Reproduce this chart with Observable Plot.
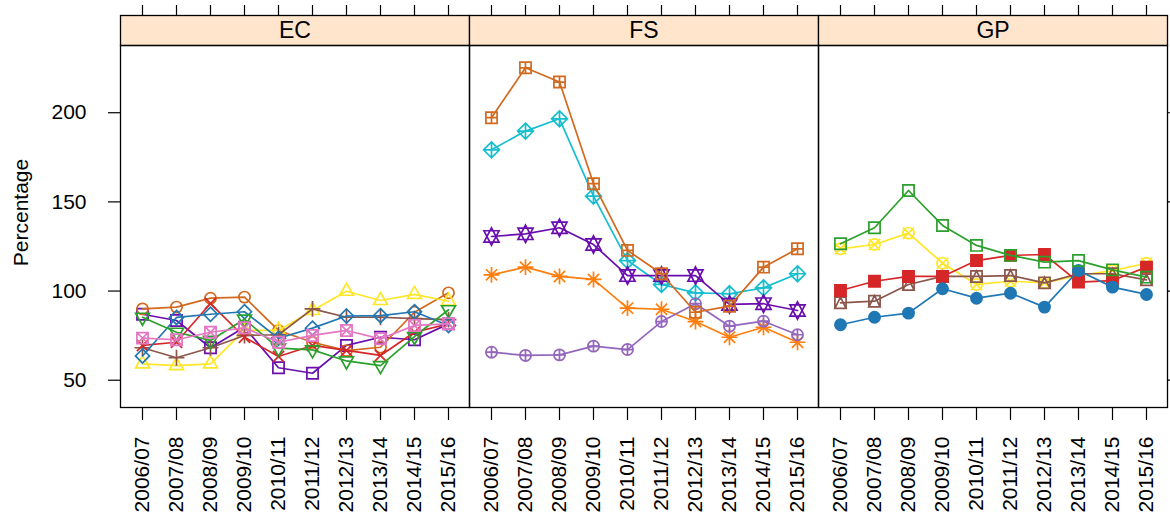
<!DOCTYPE html>
<html>
<head>
<meta charset="utf-8">
<script src="https://cdn.jsdelivr.net/npm/d3@7"></script>
<script src="https://cdn.jsdelivr.net/npm/@observablehq/plot@0.6"></script>
<style>
  html, body { margin: 0; padding: 0; background: white; }
</style>
</head>
<body>
<div id="chart"></div>
<script>
// ---- data ----
const years = ["2006/07","2007/08","2008/09","2009/10","2010/11","2011/12","2012/13","2013/14","2014/15","2015/16"];
const panels = ["EC", "FS", "GP"];
const yTicks = [50, 100, 150, 200];

// EC panel
const ec1 = [87.0, 83.5, 68.2, 79.7, 57.0, 53.9, 69.5, 74.1, 72.7, 81.6];
const ec2 = [90.0, 91.0, 96.0, 96.6, 77.9, 71.3, 66.6, 68.5, 88.1, 99.0];
const ec3 = [59.2, 58.2, 59.2, 77.9, 77.9, 89.1, 99.9, 94.7, 98.1, 94.3];
const ec4 = [68.2, 62.6, 68.2, 75.1, 75.5, 90.0, 85.3, 85.3, 84.5, 84.0];
const ec5 = [69.5, 71.3, 93.0, 74.1, 63.3, 69.5, 66.7, 63.9, 76.9, 81.6];
const ec6 = [63.6, 85.2, 87.0, 88.4, 73.5, 79.2, 86.0, 86.2, 88.4, 80.7];
const ec7 = [85.3, 76.9, 72.3, 84.2, 68.0, 67.0, 60.8, 58.2, 74.5, 89.5];
const ec8 = [73.6, 72.7, 76.9, 79.4, 71.3, 75.1, 77.9, 73.2, 80.7, 81.6];
// FS panel
const fs1 = [109.1, 113.4, 108.2, 106.5, 90.4, 89.8, 82.9, 74.1, 79.7, 71.3];
const fs2 = [179.2, 189.7, 196.6, 153.2, 117.1, 103.7, 99.0, 98.5, 101.8, 109.7];
const fs3 = [65.7, 63.9, 64.2, 69.1, 67.2, 82.9, 92.9, 80.3, 83.1, 75.5];
const fs4 = [130.6, 132.1, 135.5, 126.1, 108.7, 108.7, 108.7, 92.5, 92.9, 89.1];
const fs5 = [197.2, 225.2, 217.2, 160.2, 122.8, 109.7, 88.1, 91.5, 113.4, 123.7];
// GP panel
const gp1 = [123.7, 126.1, 132.5, 115.6, 103.7, 105.5, 104.6, 108.7, 111.5, 115.6];
const gp2 = [93.4, 94.3, 103.7, 108.2, 108.2, 108.7, 104.6, 109.7, 109.7, 106.3];
const gp3 = [100.3, 105.5, 108.2, 108.2, 117.1, 120.0, 120.5, 105.0, 105.9, 113.4];
const gp4 = [81.1, 85.3, 87.6, 101.3, 96.0, 98.8, 91.0, 111.5, 102.2, 98.1];
const gp5 = [126.5, 135.5, 156.4, 136.8, 125.6, 120.0, 116.2, 117.1, 111.9, 107.8];

const seriesNames = ["EC-1","EC-2","EC-3","EC-4","EC-5","EC-6","EC-7","EC-8","FS-1","FS-2","FS-3","FS-4","FS-5","GP-1","GP-2","GP-3","GP-4","GP-5"];
const seriesPanels = ["EC","EC","EC","EC","EC","EC","EC","EC","FS","FS","FS","FS","FS","GP","GP","GP","GP","GP"];
const seriesValues = [ec1, ec2, ec3, ec4, ec5, ec6, ec7, ec8, fs1, fs2, fs3, fs4, fs5, gp1, gp2, gp3, gp4, gp5];

// ---- styles ----
const palette = ["#6A0DAD","#D2691E","#FFE628","#8C564B","#D62728","#1F77B4","#2CA02C","#E377C2","#FF7F0E","#17BECF","#9467BD"];

const TRC0 = 1.5551, TRC1 = 1.3468, TRC2 = 0.7776;
const rectP = (c, h) => { c.moveTo(-h, -h); c.lineTo(h, -h); c.lineTo(h, h); c.lineTo(-h, h); c.closePath(); };
const circP = (c, r) => { c.moveTo(r, 0); c.arc(0, 0, r, 0, 2 * Math.PI); c.closePath(); };
const plusP = (c, a) => { c.moveTo(-a, 0); c.lineTo(a, 0); c.moveTo(0, -a); c.lineTo(0, a); };
const timesP = (c, a) => { c.moveTo(-a, -a); c.lineTo(a, a); c.moveTo(-a, a); c.lineTo(a, -a); };
const triP = (c, R, dir) => { const k = 0.92 * R; c.moveTo(0, -dir * TRC0 * k); c.lineTo(TRC1 * k, dir * TRC2 * k); c.lineTo(-TRC1 * k, dir * TRC2 * k); c.closePath(); };
const diaP = (c, a) => { c.moveTo(0, -a); c.lineTo(a, 0); c.lineTo(0, a); c.lineTo(-a, 0); c.closePath(); };
const sym = f => ({ draw(c, size) { f(c, Math.sqrt(size / Math.PI)); } });

const symbols = [
  sym((c, R) => rectP(c, R)),                                   // 0 square
  sym((c, R) => circP(c, R)),                                   // 1 circle
  sym((c, R) => triP(c, R, 1)),                                 // 2 triangle up
  sym((c, R) => plusP(c, Math.SQRT2 * R)),                      // 3 plus
  sym((c, R) => timesP(c, R)),                                  // 4 times
  sym((c, R) => diaP(c, 1.2533 * R)),                           // 5 diamond
  sym((c, R) => triP(c, R, -1)),                                // 6 triangle down
  sym((c, R) => { rectP(c, R); timesP(c, R); }),                // 7 square + times
  sym((c, R) => { timesP(c, R); plusP(c, Math.SQRT2 * R); }),   // 8 asterisk
  sym((c, R) => { diaP(c, Math.SQRT2 * R); plusP(c, Math.SQRT2 * R); }), // 9 diamond + plus
  sym((c, R) => { circP(c, R); plusP(c, R); }),                 // 10 circle + plus
  sym((c, R) => { const r = TRC0 * R, yc = 1.02 * R, xc = TRC1 * R;
                  c.moveTo(0, -r); c.lineTo(xc, yc); c.lineTo(-xc, yc); c.closePath();
                  c.moveTo(0, r); c.lineTo(xc, -yc); c.lineTo(-xc, -yc); c.closePath(); }), // 11 star of David
  sym((c, R) => { rectP(c, R); plusP(c, R); }),                 // 12 square + plus
  sym((c, R) => { circP(c, R); timesP(c, R); }),                // 13 circle + times
  sym((c, R) => { rectP(c, R); c.moveTo(0, -R); c.lineTo(R, R); c.lineTo(-R, R); c.closePath(); }), // 14 square + triangle
  sym((c, R) => rectP(c, R)),                                   // 15 filled square
  sym((c, R) => circP(c, R)),                                   // 16 filled circle
  sym((c, R) => rectP(c, R))                                    // 17 open square
];
const filled = [15, 16];

// ---- table ----
const rows = seriesNames.flatMap((name, i) =>
  years.map((year, j) => ({ series: name, panel: seriesPanels[i], year, value: seriesValues[i][j] })));

const W = 1170, H = 513, MT = 45, MB = 106, ML = 119, MR = 2;
const PH = H - MT - MB;
const STRIP = 30;
const font = "'Liberation Sans', Arial, Helvetica, sans-serif";

const seriesMarks = seriesNames.flatMap((name, i) => {
  const d = rows.filter(r => r.series === name);
  const color = palette[i % palette.length];
  return [
    Plot.lineY(d, { x: "year", y: "value", fx: "panel", stroke: color, strokeWidth: 1.7 }),
    Plot.dot(d, { x: "year", y: "value", fx: "panel", symbol: symbols[i], r: 5.6,
                  stroke: color, strokeWidth: 1.7, fill: filled.includes(i) ? color : "none" })
  ];
});

const chart = Plot.plot({
  width: W, height: H,
  marginTop: MT, marginBottom: MB, marginLeft: ML, marginRight: MR,
  style: { fontFamily: font, fontSize: "21px", background: "white", color: "black", overflow: "visible" },
  fx: { domain: panels, padding: 0, axis: null, label: null },
  x: { domain: years, type: "point", padding: 0.6, label: null },
  y: { domain: [34.7, 237.7], label: null },
  marks: [
    Plot.frame({ fill: "#FFE5CC", stroke: "black", strokeWidth: 1.3, insetTop: -STRIP, insetBottom: PH }),
    Plot.text(panels, { fx: d => d, text: d => d, frameAnchor: "top", lineAnchor: "middle", dy: -STRIP / 2, fontSize: 23 }),
    Plot.axisX({ anchor: "top", tickSize: 11, dy: -STRIP, tickFormat: () => "", label: null, strokeWidth: 1.2 }),
    Plot.axisX({ anchor: "bottom", tickSize: 13, tickPadding: 16, tickRotate: -90, label: null, fontSize: 21, strokeWidth: 1.2 }),
    Plot.axisY({ anchor: "left", ticks: yTicks, tickSize: 12, tickPadding: 22, label: null, fontSize: 21, strokeWidth: 1.2 }),
    Plot.axisY({ anchor: "right", ticks: yTicks, tickSize: 12, tickFormat: () => "", label: null, strokeWidth: 1.2 }),
    Plot.text(["Percentage"], { fx: () => "EC", text: d => d, frameAnchor: "left", textAnchor: "middle", lineAnchor: "middle", rotate: -90, dx: -99, dy: -14, fontSize: 21 }),
    ...seriesMarks,
    Plot.frame({ stroke: "black", strokeWidth: 1.3 })
  ]
});
document.getElementById("chart").appendChild(chart);
</script>
</body>
</html>
